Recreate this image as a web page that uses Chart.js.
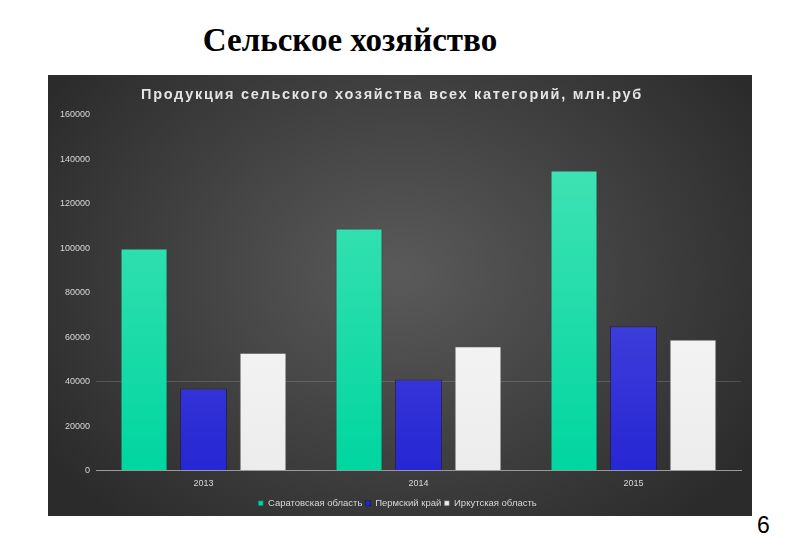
<!DOCTYPE html>
<html>
<head>
<meta charset="utf-8">
<script src="https://cdn.jsdelivr.net/npm/chart.js@4"></script>
<style>
  body { margin: 0; background: #fff; width: 800px; height: 553px; position: relative; overflow: hidden; }
  #pageTitle { position: absolute; left: 0; width: 700px; top: 22px; text-align: center;
    font: bold 33px "Liberation Serif", serif; color: #000; }
  #panel { position: absolute; left: 48px; top: 75px; width: 704px; height: 441px;
    background: radial-gradient(ellipse 60% 75% at 50% 45%, #5a5a5a 0%, #404040 55%, #2b2b2b 100%); }
  #chartTitle { position: absolute; left: -8px; width: 704px; top: 11px; text-align: center;
    font: bold 14.5px "Liberation Sans", Arial, sans-serif; letter-spacing: 1.7px; color: #e4e4e4; }
  #pageNum { position: absolute; left: 757px; top: 512px; font: 23px "Liberation Sans", Arial, sans-serif; color: #000; }
</style>
</head>
<body>
<div id="pageTitle">Сельское хозяйство</div>
<div id="panel">
  <canvas id="prodChart" width="704" height="443"></canvas>
  <div id="chartTitle">Продукция сельского хозяйства всех категорий, млн.руб</div>
</div>
<div id="pageNum">6</div>
<script>
let years = ["2013", "2014", "2015"];
let saratov = [100000, 109000, 135000];
let perm = [37000, 41000, 65000];
let irkutsk = [53000, 56000, 59000];
let seriesNames = ["Саратовская область", "Пермский край", "Иркутская область"];

// vertical gradient for bars
function barFill(top, bottom) {
  return function(c) {
    let area = c.chart.chartArea;
    if (!area) return bottom;
    let g = c.chart.ctx.createLinearGradient(0, area.top, 0, area.bottom);
    g.addColorStop(0, top);
    g.addColorStop(1, bottom);
    return g;
  };
}

let ctx = document.getElementById('prodChart').getContext("2d");

let barChart = new Chart(ctx, {
  type: 'bar',
  data: {
    labels: years,
    datasets: [
      {
        label: seriesNames[0],
        backgroundColor: barFill("#4ae4b6", "#00d6a0"),
        borderColor: "rgba(20,90,70,0.6)",
        borderWidth: 1,
        data: saratov
      },{
        label: seriesNames[1],
        backgroundColor: barFill("#5e5ee4", "#2626d4"),
        borderColor: "rgba(20,20,90,0.6)",
        borderWidth: 1,
        data: perm
      },{
        label: seriesNames[2],
        backgroundColor: barFill("#ffffff", "#ececec"),
        borderColor: "rgba(90,90,90,0.5)",
        borderWidth: 1,
        data: irkutsk
      }
    ]
  },
  options: {
    responsive: false,
    animation: false,
    layout: { padding: { top: 40, right: 11, left: 6, bottom: 0 } },
    datasets: {
      bar: { barPercentage: 0.79, categoryPercentage: 0.83 }
    },
    plugins: {
      legend: {
        position: 'bottom',
        labels: {
          color: "#d8d8d8",
          font: { size: 9.5, family: "Liberation Sans" },
          boxWidth: 5,
          boxHeight: 5,
          padding: 3
        }
      },
      tooltip: { enabled: false }
    },
    scales: {
      x: {
        grid: { display: false, drawTicks: false },
        border: { display: true, color: "#9a9a9a" },
        ticks: { color: "#d8d8d8", font: { size: 9, family: "Liberation Sans" }, padding: 7 }
      },
      y: {
        min: 0,
        max: 160000,
        ticks: {
          stepSize: 20000, color: "#d8d8d8", font: { size: 9, family: "Liberation Sans" }, padding: 6,
          callback: function(v) { return String(v); }
        },
        border: { display: false },
        grid: {
          drawTicks: false,
          color: function(c) { return c.tick && c.tick.value === 40000 ? "rgba(150,150,150,0.35)" : "rgba(0,0,0,0)"; }
        }
      }
    }
  }
});
</script>
</body>
</html>
